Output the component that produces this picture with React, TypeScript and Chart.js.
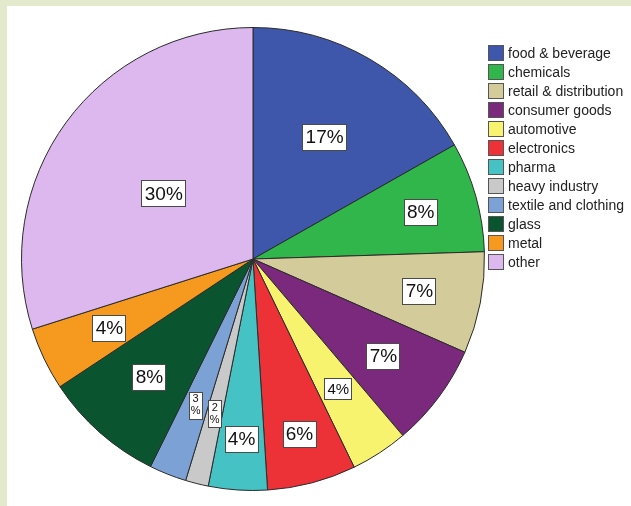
import React, { useEffect, useRef } from "react";
import { Chart, registerables } from "chart.js";

Chart.register(...registerables);

const categories = [
  "food & beverage",
  "chemicals",
  "retail & distribution",
  "consumer goods",
  "automotive",
  "electronics",
  "pharma",
  "heavy industry",
  "textile and clothing",
  "glass",
  "metal",
  "other",
];

const shares = [16.8, 7.7, 7.1, 7.2, 4.0, 6.2, 4.1, 1.6, 2.6, 8.4, 4.4, 29.9];

const colors = [
  "#3e57ab",
  "#30b64b",
  "#d4cb9a",
  "#7a297c",
  "#f8f36e",
  "#ec3137",
  "#45c2c3",
  "#c9c9c9",
  "#7ba1d5",
  "#0b5430",
  "#f5991f",
  "#dcb8ee",
];

// label placement (radius fraction) and label size style per slice
const labelRadius = [0.61, 0.75, 0.73, 0.7, 0.67, 0.78, 0.78, 0.69, 0.68, 0.68, 0.69, 0.48];
const labelStyle = ["big", "big", "big", "big", "mid", "big", "big", "tiny", "tiny", "big", "big", "big"];

const labelPlugin = {
  id: "sliceLabels",
  afterDatasetsDraw(chart: any) {
    const ctx = chart.ctx;
    const meta = chart.getDatasetMeta(0);
    const data = chart.data.datasets[0].data as number[];
    meta.data.forEach((arc: any, i: number) => {
      const { x, y, startAngle, endAngle, outerRadius } = arc.getProps(
        ["x", "y", "startAngle", "endAngle", "outerRadius"],
        true
      );
      const mid = (startAngle + endAngle) / 2;
      const r = outerRadius * labelRadius[i];
      const cx = x + Math.cos(mid) * r;
      const cy = y + Math.sin(mid) * r;
      const txt = Math.round(data[i]) + "%";
      const st = labelStyle[i];
      ctx.save();
      ctx.textAlign = "center";
      ctx.textBaseline = "middle";
      ctx.fillStyle = "#ffffff";
      ctx.strokeStyle = "#4a4a4a";
      ctx.lineWidth = 1;
      if (st === "tiny") {
        ctx.font = "11px Arial, 'Liberation Sans', sans-serif";
        const w = 13;
        const h = 27;
        ctx.fillRect(Math.round(cx - w / 2) + 0.5, Math.round(cy - h / 2) + 0.5, w, h);
        ctx.strokeRect(Math.round(cx - w / 2) + 0.5, Math.round(cy - h / 2) + 0.5, w, h);
        ctx.fillStyle = "#111";
        ctx.fillText(String(Math.round(data[i])), cx + 0.5, cy - 6);
        ctx.fillText("%", cx + 0.5, cy + 6);
      } else {
        const fs = st === "mid" ? 15 : 19;
        ctx.font = fs + "px Arial, 'Liberation Sans', sans-serif";
        const tw = ctx.measureText(txt).width;
        const w = Math.round(tw + (st === "mid" ? 5 : 6));
        const h = st === "mid" ? 21 : 26;
        const bx = Math.round(cx - w / 2) + 0.5;
        const by = Math.round(cy - h / 2) + 0.5;
        ctx.fillRect(bx, by, w, h);
        ctx.strokeRect(bx, by, w, h);
        ctx.fillStyle = "#111";
        ctx.fillText(txt, cx + 0.5, cy + 1);
      }
      ctx.restore();
    });
  },
};

const legendPlugin = {
  id: "sideLegend",
  afterDraw(chart: any) {
    const ctx = chart.ctx;
    const labels = chart.data.labels as string[];
    const bg = chart.data.datasets[0].backgroundColor as string[];
    ctx.save();
    ctx.font = "14px Arial, 'Liberation Sans', sans-serif";
    ctx.textBaseline = "middle";
    ctx.textAlign = "left";
    labels.forEach((lab, i) => {
      const cy = 53 + i * 19;
      ctx.fillStyle = bg[i];
      ctx.fillRect(488.5, cy - 8 + 0.5, 15, 15);
      ctx.strokeStyle = "#555";
      ctx.lineWidth = 1;
      ctx.strokeRect(488.5, cy - 8 + 0.5, 15, 15);
      ctx.fillStyle = "#222";
      ctx.fillText(lab, 508, cy + 1);
    });
    ctx.restore();
  },
};

const bgPlugin = {
  id: "frameBg",
  beforeDraw(chart: any) {
    const ctx = chart.ctx;
    ctx.save();
    ctx.fillStyle = "#e3e9cd";
    ctx.fillRect(0, 0, chart.width, chart.height);
    ctx.fillStyle = "#ffffff";
    ctx.fillRect(7, 6, chart.width - 7, chart.height - 6);
    ctx.restore();
  },
};

export default function App() {
  const ref = useRef<HTMLCanvasElement | null>(null);
  useEffect(() => {
    if (!ref.current) return;
    const chart = new Chart(ref.current, {
      type: "pie",
      data: {
        labels: categories,
        datasets: [
          {
            data: shares,
            backgroundColor: colors,
            borderColor: "#2b2b2b",
            borderWidth: 1,
          },
        ],
      },
      options: {
        animation: false,
        responsive: false,
        maintainAspectRatio: false,
        layout: { padding: { top: 27, bottom: 15, left: 21, right: 146 } },
        plugins: {
          legend: { display: false },
          tooltip: { enabled: false },
        },
      },
      plugins: [bgPlugin, labelPlugin, legendPlugin],
    });
    return () => chart.destroy();
  }, []);
  return (
    <div style={{ position: "fixed", left: 0, top: 0, width: 631, height: 506 }}>
      <canvas ref={ref} width={631} height={506} style={{ display: "block", width: 631, height: 506 }} />
    </div>
  );
}
